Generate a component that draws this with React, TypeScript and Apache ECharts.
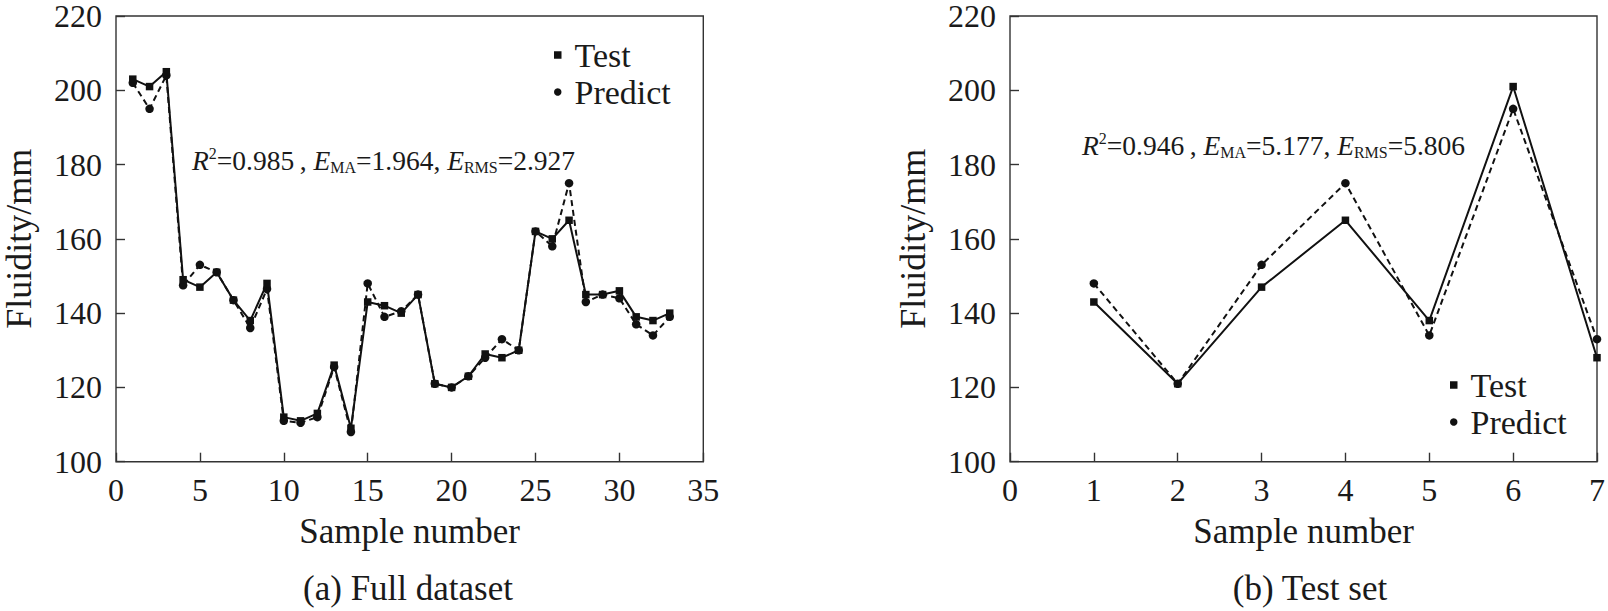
import React, { useEffect, useRef } from "react";
import * as echarts from "echarts";

// ---- Data ----
const fullSamples = [
  1, 2, 3, 4, 5, 6, 7, 8, 9, 10, 11, 12, 13, 14, 15, 16, 17, 18, 19, 20, 21,
  22, 23, 24, 25, 26, 27, 28, 29, 30, 31, 32, 33,
];
const fullTest = [
  203, 201, 205, 149, 147, 151, 143.5, 138, 148, 112, 111, 113, 126, 109, 143,
  142, 140, 145, 121, 120, 123, 129, 128, 130, 162, 160, 165, 145, 145, 146,
  139, 138, 140,
];
const fullPredict = [
  202, 195, 204, 147.5, 153, 151, 143.5, 136, 146.5, 111, 110.5, 112, 125.5,
  108, 148, 139, 140.5, 145, 121, 120, 123, 128, 133, 130, 162, 158, 175, 143,
  145, 144, 137, 134, 139,
];

const setSamples = [1, 2, 3, 4, 5, 6, 7];
const setTest = [143, 121, 147, 165, 138, 201, 128];
const setPredict = [148, 121, 153, 175, 134, 195, 133];

const seriesNames = ["Test", "Predict"];
const xAxisTitle = "Sample number";
const yAxisTitle = "Fluidity/mm";
const captions = ["(a) Full dataset", "(b) Test set"];
const statsFull = { r2: "0.985", ema: "1.964", erms: "2.927" };
const statsSet = { r2: "0.946", ema: "5.177", erms: "5.806" };

const FONT = "Liberation Serif";
const INK = "#1a1a1a";
const FRAME = "#333";

function pairs(xs: number[], ys: number[]) {
  return xs.map((x, i) => [x, ys[i]]);
}

function statText(s: { r2: string; ema: string; erms: string }) {
  return (
    "{i|R}{sup|2}{n|=" +
    s.r2 +
    "\u2009, }{i|E}{sub|MA}{n|=" +
    s.ema +
    ", }{i|E}{sub|RMS}{n|=" +
    s.erms +
    "}"
  );
}

const rich = {
  i: { fontFamily: FONT, fontSize: 27.5, fontStyle: "italic", lineHeight: 30, fill: INK, color: INK },
  n: { fontFamily: FONT, fontSize: 27.5, lineHeight: 30, fill: INK, color: INK },
  sup: { fontFamily: FONT, fontSize: 16, lineHeight: 20, verticalAlign: "top", fill: INK, color: INK },
  sub: { fontFamily: FONT, fontSize: 16, lineHeight: 16, verticalAlign: "bottom", fill: INK, color: INK },
};

function makeXAxis(gridIndex: number, max: number, interval: number) {
  return {
    type: "value",
    gridIndex,
    min: 0,
    max,
    interval,
    axisLine: { show: false },
    axisTick: { show: true, inside: true, length: 9, lineStyle: { color: FRAME, width: 1.4 } },
    axisLabel: { fontFamily: FONT, fontSize: 32, color: INK, margin: 12 },
    splitLine: { show: false },
    name: xAxisTitle,
    nameLocation: "middle",
    nameGap: 52,
    nameTextStyle: { fontFamily: FONT, fontSize: 35, color: INK },
  };
}

function makeYAxis(gridIndex: number) {
  return {
    type: "value",
    gridIndex,
    min: 100,
    max: 220,
    interval: 20,
    axisLine: { show: false },
    axisTick: { show: true, inside: true, length: 9, lineStyle: { color: FRAME, width: 1.4 } },
    axisLabel: { fontFamily: FONT, fontSize: 32, lineHeight: 24, color: INK, margin: 14 },
    splitLine: { show: false },
    name: yAxisTitle,
    nameLocation: "middle",
    nameRotate: 90,
    nameGap: 79,
    nameTextStyle: { fontFamily: FONT, fontSize: 36, color: INK },
  };
}

function makeSeries(name: string, axisIndex: number, data: number[][]) {
  const isTest = name === "Test";
  return {
    type: "line",
    name,
    xAxisIndex: axisIndex,
    yAxisIndex: axisIndex,
    data,
    symbol: isTest ? "rect" : "circle",
    symbolSize: isTest ? 7.5 : 8.5,
    showSymbol: true,
    lineStyle: { color: "#111", width: 2, type: isTest ? "solid" : [6, 4] },
    itemStyle: { color: "#111" },
    z: isTest ? 3 : 2,
  };
}

function makeLegend(left: number, top: number) {
  return {
    orient: "vertical",
    left,
    top,
    padding: 0,
    itemGap: 0,
    itemWidth: 7.5,
    itemHeight: 7.5,
    selectedMode: false,
    data: [
      { name: seriesNames[0], icon: "rect" },
      { name: seriesNames[1], icon: "circle" },
    ],
    textStyle: { fontFamily: FONT, fontSize: 34, color: INK, lineHeight: 37, padding: [0, 0, 0, 8] },
  };
}

function makeText(x: number, y: number, text: string, align: string, withRich: boolean) {
  const style: any = {
    text,
    fill: INK,
    fontFamily: FONT,
    fontSize: 35,
    font: "35px " + FONT,
    align,
    textAlign: align,
    verticalAlign: "middle",
    textVerticalAlign: "middle",
  };
  if (withRich) style.rich = rich;
  return { type: "text", x, y, silent: true, style };
}

export default function App() {
  const ref = useRef<HTMLDivElement>(null);

  useEffect(() => {
    if (!ref.current) return;
    const chart = echarts.init(ref.current, undefined, { renderer: "svg" });
    const option = {
      animation: false,
      backgroundColor: "#ffffff",
      textStyle: { fontFamily: FONT },
      grid: [
        { left: 112.7, top: 13.3, width: 590.6, height: 448.4, show: true, borderColor: FRAME, borderWidth: 1.4, backgroundColor: "transparent", containLabel: false },
        { left: 1010, top: 13.3, width: 590.7, height: 448.4, show: true, borderColor: FRAME, borderWidth: 1.4, backgroundColor: "transparent", containLabel: false },
      ],
      xAxis: [makeXAxis(0, 35, 5), makeXAxis(1, 7, 1)],
      yAxis: [makeYAxis(0), makeYAxis(1)],
      legend: [makeLegend(554, 36.5), makeLegend(1450, 366.5)],
      series: [
        makeSeries("Test", 0, pairs(fullSamples, fullTest)),
        makeSeries("Predict", 0, pairs(fullSamples, fullPredict)),
        makeSeries("Test", 1, pairs(setSamples, setTest)),
        makeSeries("Predict", 1, pairs(setSamples, setPredict)),
      ],
      graphic: [
        makeText(192, 160, statText(statsFull), "left", true),
        makeText(1082, 145, statText(statsSet), "left", true),
        makeText(408, 588, captions[0], "center", false),
        makeText(1310, 588, captions[1], "center", false),
      ],
    };
    chart.setOption(option as any);
    return () => {
      chart.dispose();
    };
  }, []);

  return (
    <div
      ref={ref}
      style={{ position: "absolute", left: 0, top: 0, width: 1608, height: 611, background: "#fff" }}
    />
  );
}
